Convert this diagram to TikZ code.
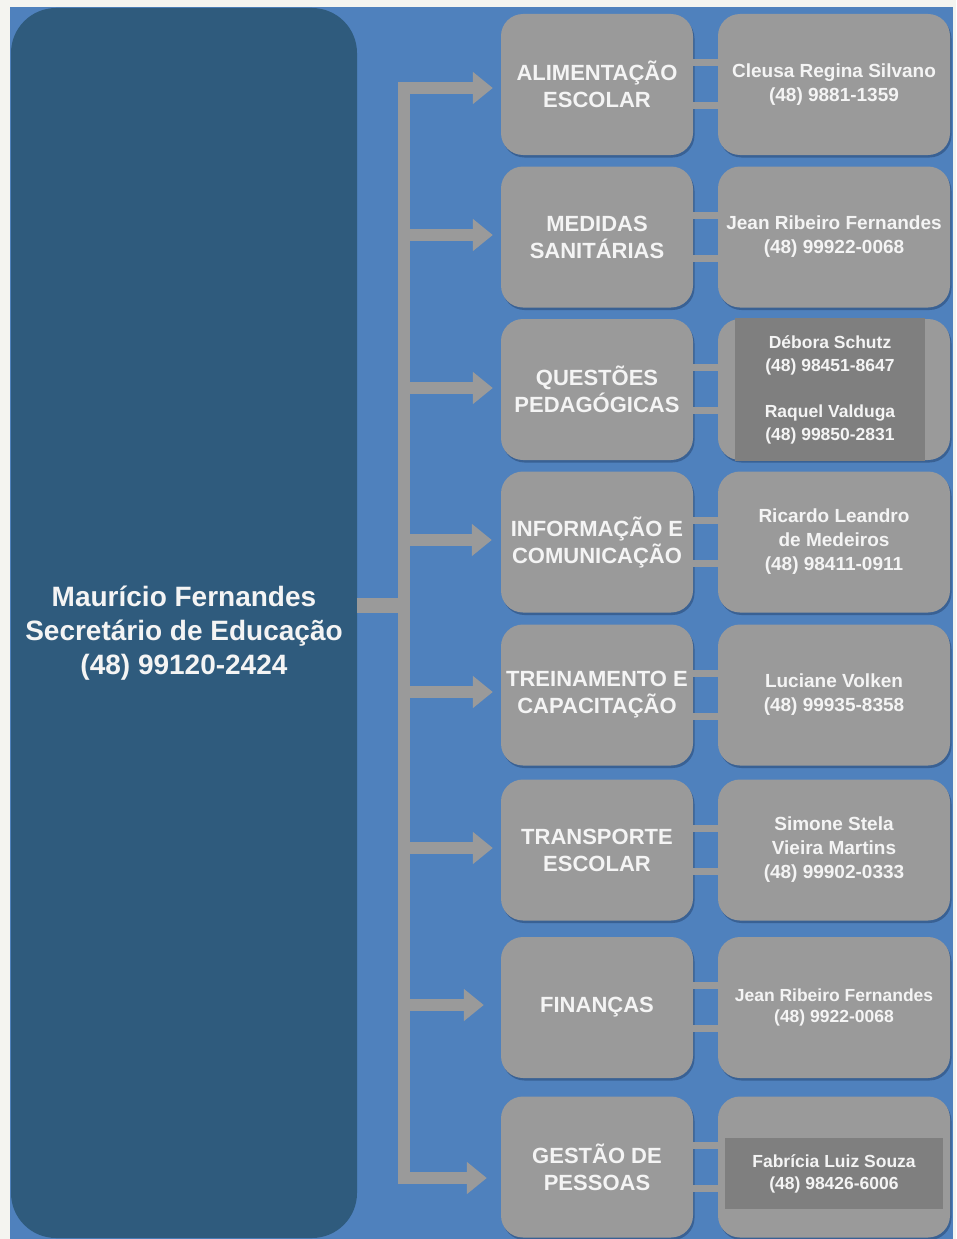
\documentclass[tikz,border=0pt]{standalone}
\usepackage{fontspec}
\setmainfont{Liberation Sans}
\usetikzlibrary{arrows.meta,shadows}
\definecolor{fundoazul}{HTML}{4F81BD}
\definecolor{azulescuro}{HTML}{2F5B7D}
\definecolor{cinza}{HTML}{9A9A9A}
\definecolor{cinzaesc}{HTML}{7F7F7F}
\definecolor{papel}{HTML}{F4F4F0}
\definecolor{sombra}{HTML}{34598A}
\definecolor{letra}{HTML}{F4F4F4}

\tikzset{
  chefe/.style={rounded corners=45pt, fill=azulescuro, minimum width=346pt, minimum height=1230pt, inner sep=0pt},
  chefetxt/.style={text=letra, align=center, inner sep=0pt, font=\fontsize{28}{34}\selectfont\bfseries},
  area/.style={rounded corners=22pt, fill=cinza, minimum width=192pt, minimum height=141pt,
    text=letra, align=center, inner sep=0pt, font=\fontsize{22}{27}\selectfont\bfseries,
    drop shadow={shadow xshift=1.5pt, shadow yshift=-2.5pt, fill=sombra, opacity=.8}},
  pessoa/.style={area, minimum width=232pt, font=\fontsize{19}{24}\selectfont\bfseries},
  destaque/.style={fill=cinzaesc, text=letra, align=center, inner sep=0pt,
    font=\fontsize{17.5}{23}\selectfont\bfseries},
  seta/.style={draw=cinza, line width=12pt, -{Triangle[length=20pt,width=31pt]}},
  haste/.style={draw=cinza, line width=12pt, line cap=rect},
  liga/.style={draw=cinza, line width=7pt},
}

\begin{document}
\begin{tikzpicture}[x=1pt,y=-1pt]
    \useasboundingbox (0,0) rectangle (956,1239);
    \fill[papel] (0,0) rectangle (956,1239);
    \fill[fundoazul] (10,7) rectangle (953,1239);

    % Secretario
    \node[chefe] (sec) at (184,623) {};
    \node[chefetxt] (sectxt) at (184,633) {Maurício Fernandes\\Secretário de Educação\\(48) 99120-2424};

    % Areas
    \node[area] (area1) at (597,84.5) {ALIMENTAÇÃO\\ESCOLAR};
    \node[area] (area2) at (597,237) {MEDIDAS\\SANITÁRIAS};
    \node[area] (area3) at (597,389.5) {QUESTÕES\\PEDAGÓGICAS};
    \node[area] (area4) at (597,542) {INFORMAÇÃO E\\COMUNICAÇÃO};
    \node[area] (area5) at (597,695) {TREINAMENTO E\\CAPACITAÇÃO};
    \node[area] (area6) at (597,850) {TRANSPORTE\\ESCOLAR};
    \node[area] (area7) at (597,1007.5) {FINANÇAS};
    \node[area] (area8) at (597,1167) {GESTÃO DE\\PESSOAS};

    % Responsaveis
    \node[pessoa] (pess1) at (834,84.5) {Cleusa Regina Silvano\\(48) 9881-1359};
    \node[pessoa] (pess2) at (834,237) {Jean Ribeiro Fernandes\\(48) 99922-0068};
    \node[pessoa] (pess3) at (834,389.5) {};
    \node[pessoa] (pess4) at (834,542) {Ricardo Leandro\\de Medeiros\\(48) 98411-0911};
    \node[pessoa] (pess5) at (834,695) {Luciane Volken\\(48) 99935-8358};
    \node[pessoa] (pess6) at (834,850) {Simone Stela\\Vieira Martins\\(48) 99902-0333};
    \node[pessoa, font=\fontsize{17.5}{21}\selectfont\bfseries] (pess7) at (834,1007.5)
        {Jean Ribeiro Fernandes\\(48) 9922-0068};
    \node[pessoa] (pess8) at (834,1167) {};
    \node[destaque, minimum width=190pt, minimum height=143pt] (dest3) at (830,389.5)
        {Débora Schutz\\(48) 98451-8647\\[23pt]Raquel Valduga\\(48) 99850-2831};
    \node[destaque, minimum width=218pt, minimum height=71pt, font=\fontsize{17.5}{22}\selectfont\bfseries]
        (dest8) at (834,1173.5) {Fabrícia Luiz Souza\\(48) 98426-6006};

    % Ligacoes area -> responsavel
    \foreach \i in {1,...,8} {
        \draw[liga] ([yshift=22pt]area\i.east) -- ([yshift=22pt]pess\i.west);
        \draw[liga] ([yshift=-21pt]area\i.east) -- ([yshift=-21pt]pess\i.west);
    }

    % Setas
    \foreach \i/\y/\g in {1/88/8, 2/235/8, 3/388/8, 4/540/9, 5/692/8, 6/848/8, 7/1005/17, 8/1178/14} {
        \coordinate (r\i) at (404,\y);
        \draw[seta, shorten >=\g pt] (r\i) -- (area\i.west |- r\i);
    }
    \draw[haste] (r1) -- (r8);
    \coordinate (tr) at (404,605.5);
    \draw[cinza, line width=15pt] (sec.east |- tr) -- (tr);
\end{tikzpicture}
\end{document}
